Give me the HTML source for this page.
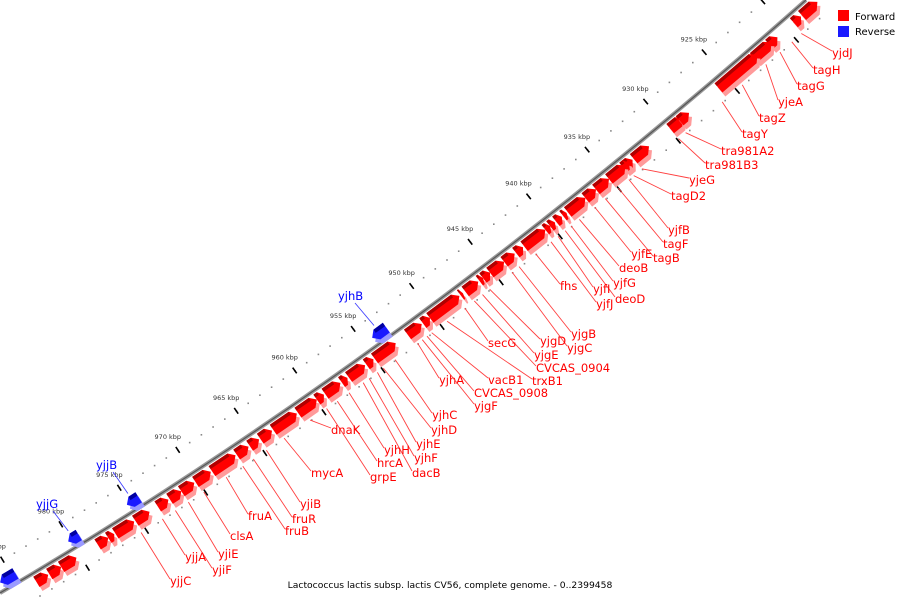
<!DOCTYPE html>
<html><head><meta charset="utf-8"><style>
html,body{margin:0;padding:0;background:#fff;width:900px;height:600px;overflow:hidden}
svg{display:block}
text{font-family:"DejaVu Sans","Liberation Sans",sans-serif}
</style></head><body>
<svg id="map" width="900" height="600" viewBox="0 0 900 600" xmlns="http://www.w3.org/2000/svg">
<path d="M0,593 Q408,353 806,0" fill="none" stroke="#999" stroke-width="4"/>
<path d="M0,593 Q408,353 806,0" fill="none" stroke="#555" stroke-width="1.2"/>
<g id="ticks"></g>
<g id="genes"></g>
<g id="labels"></g>
<g>
<rect x="838" y="10" width="11" height="11" fill="#ff0000"/>
<text x="855" y="20" font-size="10" fill="#000">Forward</text>
<rect x="838" y="26" width="11" height="11" fill="#1a1aff"/>
<text x="855" y="35" font-size="10" fill="#000">Reverse</text>
</g>
<text x="450" y="588" font-size="9.2" text-anchor="middle" fill="#000">Lactococcus lactis subsp. lactis CV56, complete genome. - 0..2399458</text>
</svg>
<script>
const geneStart=[918.7,919.4,921.5,922.8,925.8,929.9,929.1,933.0,933.7,933.9,935.1,936.2,937.1,938.6,939.0,939.6,940.1,940.5,942.3,943.0,944.0,945.2,945.8,946.1,947.3,947.7,950.3,950.9,952.2,955.0,955.7,957.2,957.8,959.2,959.9,961.5,963.6,964.7,965.6,966.7,968.8,970.2,971.4,972.4,973.4,975.3,977.0,977.6,978.5,981.6,982.6,983.7,953.1,974.2,979.3,984.7];
const geneEnd=[917.4,918.8,920.8,921.3,922.5,928.8,928.3,931.7,933.1,933.4,933.7,935.1,936.2,937.1,938.7,939.1,939.7,940.1,940.5,942.4,943.1,944.0,945.2,945.8,946.2,947.5,947.8,950.3,951.0,953.2,955.1,955.8,957.3,957.9,959.3,959.9,961.6,963.7,964.8,965.7,966.8,968.9,970.3,971.4,972.5,974.1,975.4,977.1,977.6,980.3,981.6,982.7,954.3,975.2,980.2,986.0];
const geneStrand=["+","+","+","+","+","+","+","+","+","+","+","+","+","+","+","+","+","+","+","+","+","+","+","+","+","+","+","+","+","+","+","+","+","+","+","+","+","+","+","+","+","+","+","+","+","+","+","+","+","+","+","+","-","-","-","-"];
const labelNames=["yjdJ","tagH","tagG","yjeA","tagZ","tagY","tra981A2","tra981B3","yjeG","tagD2","yjfB","tagF","tagB","yjfE","deoB","yjfG","deoD","yjfI","yjfJ","fhs","yjgB","yjgC","yjgD","yjgE","CVCAS_0904","secG","trxB1","vacB1","CVCAS_0908","yjhA","yjgF","yjhC","yjhD","yjhE","yjhF","dacB","yjhH","hrcA","grpE","dnaK","mycA","yjiB","fruR","fruB","fruA","clsA","yjiE","yjiF","yjjA","yjjC","yjhB","yjjB","yjjG"];
const labelKbp=[919.5,920.3,921.3,922.5,924.5,926.2,929.3,929.9,933.0,933.7,934.1,935.0,936.1,937.0,938.3,939.0,939.5,940.1,940.7,942.0,943.4,944.0,945.9,946.5,947.2,948.0,949.5,950.8,951.2,952.0,951.6,953.9,954.9,955.4,956.1,956.6,957.8,958.8,959.7,961.1,963.3,964.8,965.9,966.8,968.2,970.1,971.4,972.5,973.6,975.4,953.7,974.7,979.8];
const labelStrand=["+","+","+","+","+","+","+","+","+","+","+","+","+","+","+","+","+","+","+","+","+","+","+","+","+","+","+","+","+","+","+","+","+","+","+","+","+","+","+","+","+","+","+","+","+","+","+","+","+","+","-","-","-"];
// layout: label text anchor positions (left, baseline)
const labelPos=[[832,57],[813,74],[797,90],[778,106],[759,122],[742,138],[721,155],[705,169],[689,184],[671,200],[668,234],[663,248],[653,262],[631,258],[619,272],[613,287],[615,303],[593,293],[596,308],[560,290],[571,338],[567,352],[540,345],[534,359],[536,372],[488,347],[532,385],[488,384],[474,397],[439,384],[474,410],[432,419],[431,434],[416,448],[414,462],[412,477],[384,454],[377,467],[370,481],[331,434],[311,477],[300,508],[292,523],[285,535],[248,520],[230,540],[218,558],[212,574],[185,561],[170,585],[338,300],[96,469],[36,508]];

const NS="http://www.w3.org/2000/svg";
function tOf(k){const x=(986.4-k)*11.76;return (816-Math.sqrt(816*816-40*x))/20;}
function P(k,off){
  const t=tOf(k),u=1-t;
  const x=2*u*t*408+t*t*806, y=u*u*593+2*u*t*353;
  const dx=2*u*408+2*t*398, dy=2*u*(-240)+2*t*(-353);
  const L=Math.hypot(dx,dy);
  return [x+(-dy/L)*off, y+(dx/L)*off];
}
function poly(pts,fill,name,parent){
  const p=document.createElementNS(NS,"polygon");
  p.setAttribute("points",pts.map(q=>q[0].toFixed(1)+","+q[1].toFixed(1)).join(" "));
  p.setAttribute("fill",fill);
  
  
  parent.appendChild(p);
}
function shift(pts,dx,dy){return pts.map(q=>[q[0]+dx,q[1]+dy]);}

const tickG=document.getElementById("ticks");
for(let k=918;k<=986;k++){
  [-27,23].forEach(o=>{
    const q=P(k,o);
    const c=document.createElementNS(NS,"rect");
    c.setAttribute("x",(q[0]-0.8).toFixed(1));c.setAttribute("y",(q[1]-0.8).toFixed(1));
    c.setAttribute("width","1.6");c.setAttribute("height","1.6");c.setAttribute("fill","#888");
    
    
    tickG.appendChild(c);
  });
  if(k%5===0){
    [[-24,-31],[20,27]].forEach(r=>{
      const a=P(k,r[0]),b=P(k,r[1]);
      const l=document.createElementNS(NS,"line");
      l.setAttribute("x1",a[0]);l.setAttribute("y1",a[1]);l.setAttribute("x2",b[0]);l.setAttribute("y2",b[1]);
      l.setAttribute("stroke","#000");l.setAttribute("stroke-width","1.6");
      
      
      tickG.appendChild(l);
    });
    const q=P(k,-31);
    const tx=document.createElementNS(NS,"text");
    tx.setAttribute("x",(q[0]-8).toFixed(1));tx.setAttribute("y",(q[1]-8).toFixed(1));
    tx.setAttribute("font-size","6.5");tx.setAttribute("fill","#333");tx.setAttribute("text-anchor","middle");
    
    
    tx.textContent=k+" kbp";
    tickG.appendChild(tx);
  }
}

const geneG=document.getElementById("genes");
for(let i=0;i<geneStart.length;i++){
  const kL=Math.max(geneStart[i],geneEnd[i]), kR=Math.min(geneStart[i],geneEnd[i]);
  const ah=Math.min(0.4,(kL-kR)/2);
  let face,top,col,shd,dark;
  if(geneStrand[i]==="+"){
    face=[P(kL,3),P(kR+ah,3),P(kR,9),P(kR+ah,15),P(kL,15)];
    top=[P(kL,3),P(kR+ah,3),P(kR+ah,6.5),P(kL,6.5)];
    col="#ff0000";shd="#ff9a9a";dark="#b00000";
  } else {
    face=[P(kL,-9),P(kL-ah,-15),P(kR,-15),P(kR,-3),P(kL-ah,-3)];
    top=[P(kL-ah,-15),P(kR,-15),P(kR,-11),P(kL-ah,-11)];
    col="#1a1aff";shd="#9a9aff";dark="#0000a0";
  }
  poly(shift(face,3,4),shd,"gene-shadow",geneG);
  poly(face,col,geneStrand[i]==="+"?"gene-forward":"gene-reverse",geneG);
  poly(top,dark,"gene-top",geneG);
}

const labG=document.getElementById("labels");
for(let i=0;i<labelNames.length;i++){
  const fwd=labelStrand[i]==="+";
  const a=P(labelKbp[i],fwd?22:-18);
  const lp=labelPos[i];
  const ex=fwd?lp[0]:lp[0]+17, ey=fwd?lp[1]-6:lp[1]+3;
  const l=document.createElementNS(NS,"line");
  l.setAttribute("x1",a[0].toFixed(1));l.setAttribute("y1",a[1].toFixed(1));
  l.setAttribute("x2",ex);l.setAttribute("y2",ey);
  l.setAttribute("stroke",fwd?"#ff4040":"#4040ff");l.setAttribute("stroke-width","0.9");
  
  
  labG.appendChild(l);
  const t=document.createElementNS(NS,"text");
  t.setAttribute("x",lp[0]);t.setAttribute("y",lp[1]);
  t.setAttribute("font-size","11.5");t.setAttribute("fill",fwd?"#ff0000":"#0000ff");
  
  
  t.textContent=labelNames[i];
  labG.appendChild(t);
}
</script>
</body></html>
